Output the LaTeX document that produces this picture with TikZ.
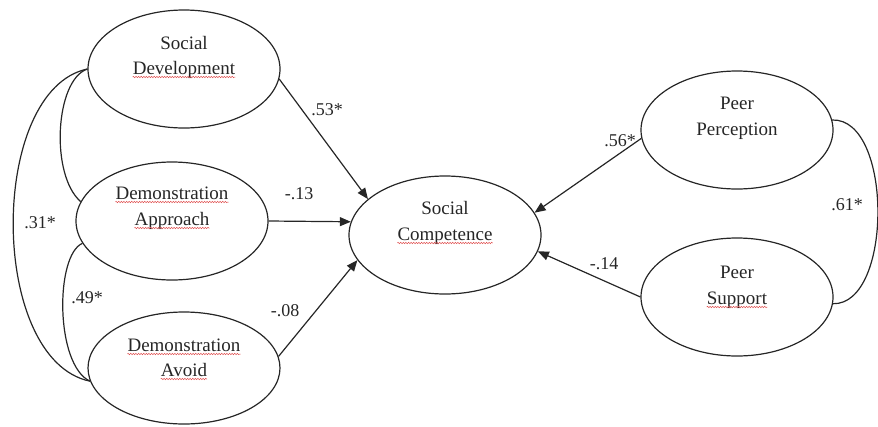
\documentclass[tikz,border=0pt]{standalone}
\usepackage{fontspec}
\setmainfont{Liberation Serif}
\usetikzlibrary{shapes.geometric,arrows.meta,decorations.pathmorphing}
\definecolor{ink}{HTML}{262626}
\definecolor{squigred}{HTML}{E05050}
\begin{document}
\begin{tikzpicture}[x=1pt,y=-1pt,
  lat/.style={ellipse,draw=ink,line width=1.2pt,minimum width=192pt,minimum height=118pt,inner sep=0pt},
  wordtxt/.style={anchor=base,inner sep=0pt,font=\fontsize{19}{23}\selectfont,text=ink},
  coef/.style={inner sep=0pt,font=\fontsize{18}{22}\selectfont,text=ink},
  pathto/.style={draw=ink,line width=1.2pt,-{Triangle[length=11pt,width=9pt]}},
  cov/.style={draw=ink,line width=1.2pt},
  squig/.style={draw=squigred,line width=0.5pt,decorate,decoration={snake,amplitude=0.7pt,segment length=2.6pt}}]
\useasboundingbox (0,0) rectangle (878,426);
% latent variables
\node[lat] (sd) at (184,69) {};
\node[lat] (da) at (172,221) {};
\node[lat,minimum height=112pt] (dv) at (184,368) {};
\node[lat] (sc) at (445,235) {};
\node[lat] (pp) at (737,130) {};
\node[lat] (ps) at (737,297) {};
% texts
\node[wordtxt] (sd1) at (184,49) {Social};
\node[wordtxt] (sd2) at (184,74) {Development};
\node[wordtxt] (da1) at (172,199) {Demonstration};
\node[wordtxt] (da2) at (172,225) {Approach};
\node[wordtxt] (dv1) at (184,351) {Demonstration};
\node[wordtxt] (dv2) at (184,376) {Avoid};
\node[wordtxt] (sc1) at (445,214) {Social};
\node[wordtxt] (sc2) at (445,240) {Competence};
\node[wordtxt] (pp1) at (737,109) {Peer};
\node[wordtxt] (pp2) at (737,135) {Perception};
\node[wordtxt] (ps1) at (737,278) {Peer};
\node[wordtxt] (ps2) at (737,304) {Support};
% spell-check squiggles
\foreach \w in {sd2,da1,da2,dv1,dv2,sc2,ps2}{
  \draw[squig] ([yshift=-3pt]\w.base west) -- ([yshift=-3pt]\w.base east);
}
% paths
\draw[pathto] (sd.-6) -- (sc.155);
\draw[pathto] (da.east) -- (sc.172);
\draw[pathto] (dv.7) -- (sc.196);
\draw[pathto] (pp.185) -- (sc.14);
\draw[pathto] (ps.west) -- (sc.-10);
% covariances
\draw[cov] (sd.west) .. controls (55,80) and (50,175) .. (da.168);
\draw[cov] (sd.west) .. controls (-12,90) and (-12,360) .. (dv.188);
\draw[cov] (da.194) .. controls (55,255) and (55,365) .. (dv.188);
\draw[cov] (pp.6) .. controls (893,118) and (893,305) .. (ps.-4);
% coefficients
\node[coef] (c53) at (327,110) {.53*};
\node[coef] (c13) at (299,194) {-.13};
\node[coef] (c08) at (285,311) {-.08};
\node[coef] (c56) at (620,141) {.56*};
\node[coef] (c14) at (604,264) {-.14};
\node[coef] (c61) at (847,205) {.61*};
\node[coef] (c31) at (40,223) {.31*};
\node[coef] (c49) at (87,298) {.49*};
\end{tikzpicture}
\end{document}
